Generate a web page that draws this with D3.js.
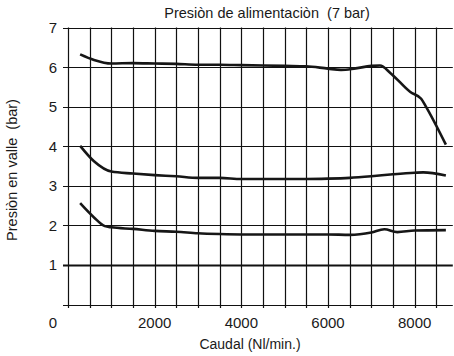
<!DOCTYPE html>
<html>
<head>
<meta charset="utf-8">
<script src="https://cdn.jsdelivr.net/npm/d3@7"></script>
<style>
  body { margin: 0; background: #fff; }
  text { font-family: "Liberation Sans", Arial, sans-serif; fill: #1a1a1a; white-space: pre; }
</style>
</head>
<body>
<div id="chart"></div>
<script>
// caudal (Nl/min) and pressure (bar)
const topFlow = [280, 600, 1000, 1500, 2000, 2500, 3000, 3500, 4000, 4500, 5000, 5500, 6000, 6300, 6600, 7000, 7200, 7450, 7900, 8150, 8250, 8720];
const topPres = [6.32, 6.18, 6.09, 6.1, 6.09, 6.08, 6.06, 6.06, 6.05, 6.04, 6.03, 6.02, 5.96, 5.93, 5.96, 6.03, 6.04, 5.84, 5.37, 5.2, 5.02, 4.04];

const midFlow = [280, 600, 1000, 1500, 2000, 2500, 3000, 3500, 4000, 4500, 5000, 5500, 6000, 6500, 7000, 7500, 8000, 8200, 8720];
const midPres = [4.01, 3.62, 3.36, 3.31, 3.27, 3.24, 3.2, 3.2, 3.17, 3.17, 3.17, 3.17, 3.18, 3.2, 3.24, 3.29, 3.33, 3.34, 3.26];

const lowFlow = [280, 600, 850, 1000, 1500, 2000, 2500, 3000, 3500, 4000, 5000, 6000, 6500, 7000, 7300, 7600, 8000, 8720];
const lowPres = [2.56, 2.2, 1.98, 1.95, 1.91, 1.86, 1.84, 1.8, 1.78, 1.77, 1.77, 1.77, 1.76, 1.82, 1.9, 1.83, 1.87, 1.88];

const xGrid = d3.range(0, 8501, 500);
const yGrid = [1, 2, 3, 4, 5, 6, 7];
const xLabels = [2000, 4000, 6000, 8000];
const yLabels = [1, 2, 3, 4, 5, 6, 7];

const width = 454, height = 356;

const svg = d3.select("#chart").append("svg")
    .attr("width", width)
    .attr("height", height);

const x = d3.scaleLinear().domain([0, 9000]).range([68, 458]);
const y = d3.scaleLinear().domain([0, 7]).range([304.5, 27.5]);
const xEnd = 8880;

// vertical grid + ticks under the axis
svg.append("g").selectAll("line")
    .data(xGrid)
    .enter().append("line")
    .attr("x1", d => Math.round(x(d)) + 0.5)
    .attr("x2", d => Math.round(x(d)) + 0.5)
    .attr("y1", y(7))
    .attr("y2", y(0) + 3.5)
    .attr("stroke", "#111")
    .attr("stroke-width", 1.2);

// horizontal grid
svg.append("g").selectAll("line")
    .data([0].concat(yGrid))
    .enter().append("line")
    .attr("x1", x(0) - 5)
    .attr("x2", x(xEnd))
    .attr("y1", d => Math.round(y(d)) + 0.5)
    .attr("y2", d => Math.round(y(d)) + 0.5)
    .attr("stroke", "#111")
    .attr("stroke-width", d => d === 1 ? 2.2 : 1.2);

// y tick labels
svg.append("g").selectAll("text")
    .data(yLabels)
    .enter().append("text")
    .attr("x", 57)
    .attr("y", d => y(d) + 5.5)
    .attr("text-anchor", "end")
    .style("font-size", "15px")
    .text(d => d);

// x tick labels
svg.append("g").selectAll("text")
    .data(xLabels)
    .enter().append("text")
    .attr("x", d => x(d))
    .attr("y", 328)
    .attr("text-anchor", "middle")
    .style("font-size", "15px")
    .text(d => d);

svg.append("text")
    .attr("x", x(0) - 11)
    .attr("y", 328)
    .attr("text-anchor", "end")
    .style("font-size", "15px")
    .text("0");

// titles
svg.append("text")
    .attr("x", 267)
    .attr("y", 18)
    .attr("text-anchor", "middle")
    .style("font-size", "14.5px")
    .text("Presiòn de alimentaciòn  (7 bar)");

svg.append("text")
    .attr("x", 250)
    .attr("y", 349)
    .attr("text-anchor", "middle")
    .style("font-size", "14px")
    .text("Caudal (Nl/min.)");

svg.append("text")
    .attr("transform", "translate(17,170) rotate(-90)")
    .attr("text-anchor", "middle")
    .style("font-size", "14.5px")
    .text("Presiòn en valle  (bar)");

// curves
const line = d3.line()
    .x(d => x(d[0]))
    .y(d => y(d[1]))
    .curve(d3.curveMonotoneX);

const series = [
    d3.zip(topFlow, topPres),
    d3.zip(midFlow, midPres),
    d3.zip(lowFlow, lowPres)
];

svg.append("g").selectAll("path")
    .data(series)
    .enter().append("path")
    .attr("d", line)
    .attr("fill", "none")
    .attr("stroke", "#161616")
    .attr("stroke-width", 2.6)
    .attr("stroke-linejoin", "round");
</script>
</body>
</html>
